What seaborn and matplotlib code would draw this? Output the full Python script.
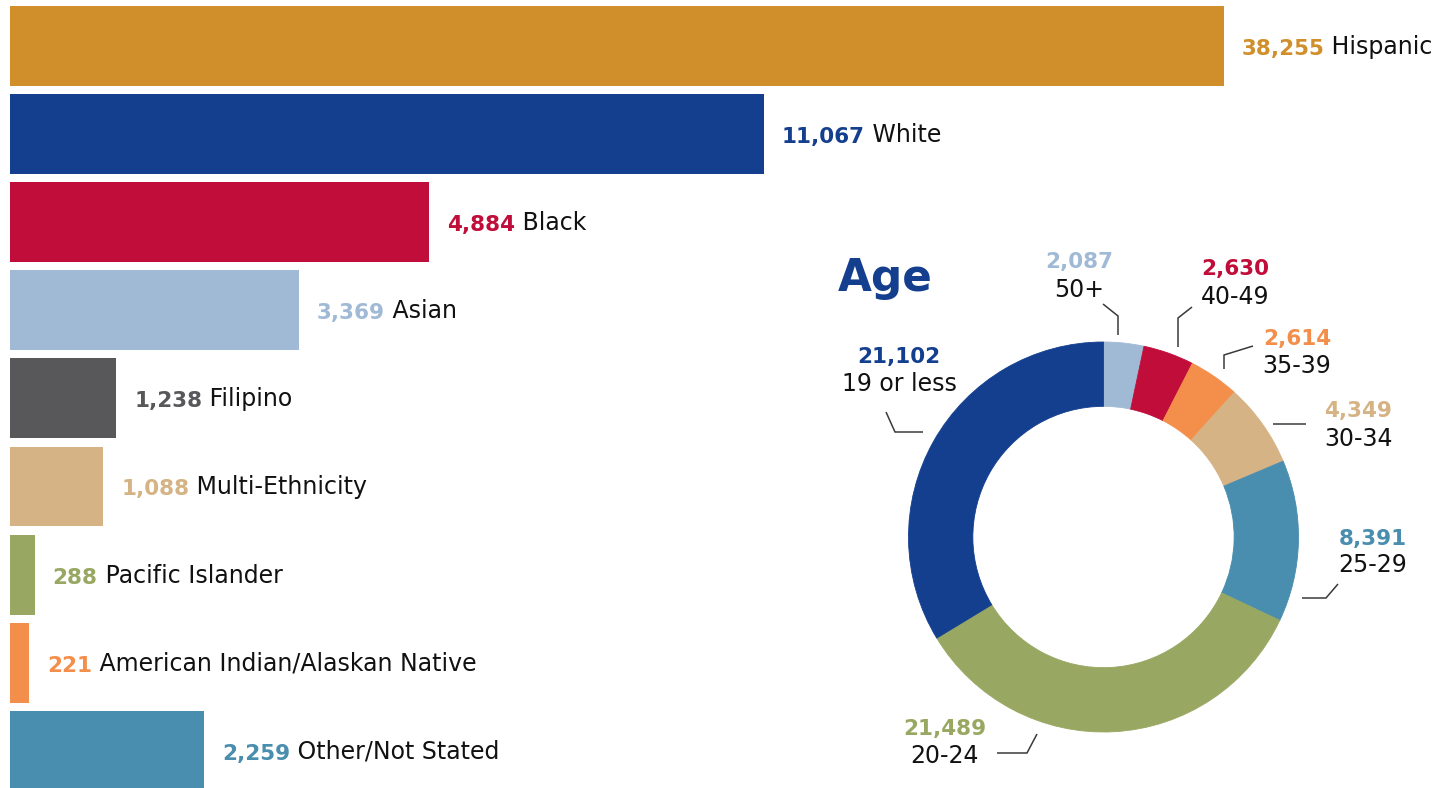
import numpy as np
import pandas as pd
import matplotlib
matplotlib.use("Agg")
import matplotlib.pyplot as plt
import seaborn as sns

# ---------------- data ----------------
eth_labels = ["Hispanic", "White", "Black", "Asian", "Filipino", "Multi-Ethnicity",
              "Pacific Islander", "American Indian/Alaskan Native", "Other/Not Stated"]
eth_values = [38255, 11067, 4884, 3369, 1238, 1088, 288, 221, 2259]
eth_colors = ["#D08F2A", "#143F8E", "#C00D3A", "#A0BAD6", "#58585B", "#D5B384",
              "#98A862", "#F48F4B", "#498DAF"]

age_labels = ["50+", "40-49", "35-39", "30-34", "25-29", "20-24", "19 or less"]
age_values = [2087, 2630, 2614, 4349, 8391, 21489, 21102]
age_colors = ["#A0BAD6", "#C00D3A", "#F48F4B", "#D5B384", "#498DAF", "#98A862", "#143F8E"]

# ---------------- style ----------------
sns.set_style("white")
plt.rcParams["font.family"] = ["DejaVu Sans"]
TEXT = "#111111"
LEADER = "#3a3a3a"

W, H = 1447, 788
fig = plt.figure(figsize=(W / 100, H / 100), dpi=100)

# axis scale: linear for moderate values, logarithmic compression for the large ones
B, K = 6450.0, 4322.0


def fwd(v):
    v = np.asarray(v, dtype=float)
    safe = np.maximum(v, B)
    return np.where(v <= B, v, B + K * np.log(safe / B))


def inv(u):
    u = np.asarray(u, dtype=float)
    safe = np.clip(u, B, B + K * 50)
    return np.where(u <= B, u, B * np.exp((safe - B) / K))


# ---------------- bars ----------------
ax = fig.add_axes([0, 0, 1, 1])
df = pd.DataFrame({"cat": eth_labels, "val": eth_values})
sns.barplot(data=df, x="val", y="cat", hue="cat", palette=eth_colors, orient="h",
            width=0.908, saturation=1, legend=False, ax=ax,
            linewidth=0, edgecolor="none")
ax.set_xscale("function", functions=(fwd, inv))
px_per_unit = 0.0858
ax.set_xlim(-10 / px_per_unit, float(inv(1437 / px_per_unit)))
pitch, top_c = 88.1, 46.0
ax.set_ylim((H - top_c) / pitch, -top_c / pitch)
ax.axis("off")

for i, (lab, v, c) in enumerate(zip(eth_labels, eth_values, eth_colors)):
    t = ax.annotate(f"{v:,}", xy=(v, i), xytext=(18, -9), textcoords="offset pixels",
                    fontsize=15.5, fontweight="bold", color=c, va="baseline", ha="left")
    ax.annotate(" " + lab, xy=(1, 0), xycoords=t, fontsize=17, color=TEXT,
                va="bottom", ha="left")

# ---------------- donut ----------------
cx, cy, R = 1103.5, 537.0, 195.0
ax2 = fig.add_axes([(cx - R) / W, (H - cy - R) / H, 2 * R / W, 2 * R / H])
wedges, _ = ax2.pie(age_values, colors=age_colors, startangle=90, counterclock=False,
                    radius=1, wedgeprops=dict(width=0.33, linewidth=0.6))
for w in wedges:
    w.set_edgecolor(w.get_facecolor())
ax2.set_xlim(-1, 1)
ax2.set_ylim(-1, 1)
ax2.set_aspect("equal")
ax2.axis("off")


def P(px, py):
    return (px - cx) / R, (cy - py) / R


# label layout in figure pixels: text centre x, number baseline, label baseline, leader path
age_layout = {
    "50+": (1079, 268, 297, [(1103, 304), (1118, 316), (1118, 335)]),
    "40-49": (1235, 275, 304, [(1192, 307), (1178, 318), (1178, 347)]),
    "35-39": (1297, 345, 373, [(1253, 346), (1224, 355), (1224, 369)]),
    "30-34": (1358, 417, 446, [(1273, 424), (1306, 424)]),
    "25-29": (1373, 545, 572, [(1302, 598), (1326, 598), (1338, 584)]),
    "20-24": (945, 735, 763, [(997, 753), (1027, 753), (1037, 734)]),
    "19 or less": (899, 363, 391, [(886, 412), (895, 432), (923, 432)]),
}

for lab, v, c in zip(age_labels, age_values, age_colors):
    x, ny, ly, path = age_layout[lab]
    ax2.text(*P(x, ny), f"{v:,}", fontsize=15.5, fontweight="bold", color=c,
             ha="center", va="baseline", clip_on=False)
    ax2.text(*P(x, ly), lab, fontsize=17, color=TEXT, ha="center", va="baseline",
             clip_on=False)
    pts = np.array([P(a, b) for a, b in path])
    ax2.plot(pts[:, 0], pts[:, 1], color=LEADER, lw=1.1, clip_on=False,
             solid_capstyle="butt", solid_joinstyle="miter")

fig.text(838 / W, 1 - 291 / H, "Age", fontsize=31.5, fontweight="bold",
         color="#143F8E", ha="left", va="baseline")

fig.savefig("out.png", dpi=100)
